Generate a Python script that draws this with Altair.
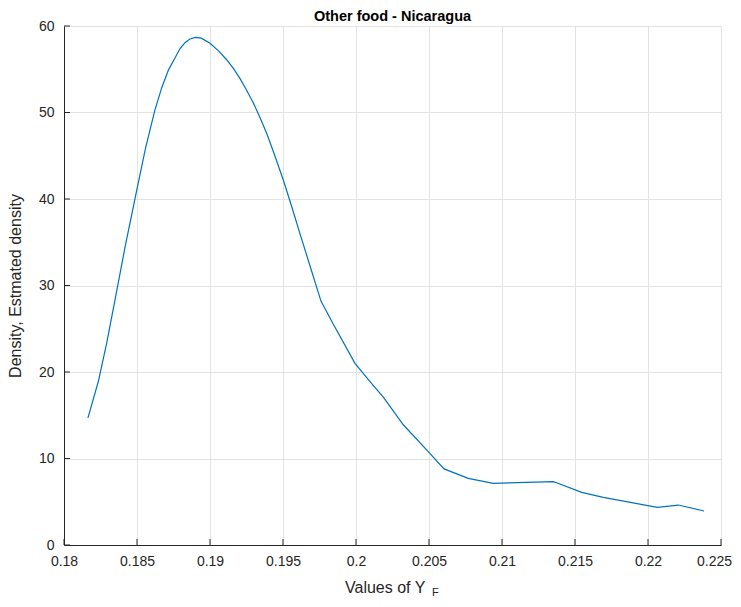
import altair as alt
import pandas as pd

# Density curve
x_vals = [0.18164, 0.18235, 0.18292, 0.18349, 0.18420, 0.18498, 0.18560, 0.18623,
          0.18670, 0.18715, 0.18760, 0.18795, 0.18830, 0.18863, 0.18900, 0.18940,
          0.19000, 0.19060, 0.19114, 0.19160, 0.19205, 0.19250, 0.19297, 0.19340,
          0.19388, 0.19440, 0.19502, 0.19560, 0.19616, 0.19690, 0.19760, 0.19842,
          0.19993, 0.20096, 0.20187, 0.20324, 0.20495, 0.20603, 0.20769, 0.20940,
          0.21351, 0.21374, 0.21546, 0.21694, 0.22064, 0.22208, 0.22384]
y_vals = [14.7, 18.9, 23.3, 28.3, 34.6, 41.0, 46.0, 50.3,
          52.9, 54.9, 56.3, 57.4, 58.1, 58.5, 58.68, 58.6,
          58.0, 57.1, 56.1, 55.1, 53.95, 52.6, 51.1, 49.5,
          47.6, 45.2, 42.2, 39.1, 36.0, 32.0, 28.2, 25.6,
          21.0, 18.9, 17.1, 13.9, 10.8, 8.8, 7.7, 7.13,
          7.32, 7.2, 6.09, 5.5, 4.35, 4.62, 3.93]

x_ticks = [0.18, 0.185, 0.19, 0.195, 0.2, 0.205, 0.21, 0.215, 0.22, 0.225]
y_ticks = [0, 10, 20, 30, 40, 50, 60]

title_text = "Other food - Nicaragua"
xlabel_text = "Values of Y"
xlabel_sub = "F"
ylabel_text = "Density, Estmated density"

W, H = 657, 519
FONT = "Liberation Sans"
AX = "#262626"

df = pd.DataFrame({"x": x_vals, "y": y_vals})
xt = pd.DataFrame({"x": x_ticks})
yt = pd.DataFrame({"y": y_ticks})

xscale = alt.Scale(domain=[0.18, 0.225], nice=False, zero=False)
yscale = alt.Scale(domain=[0, 60], nice=False)

x_axis = alt.Axis(values=x_ticks, format="~g", title=None, grid=True, gridColor="#e3e3e3",
                  gridWidth=1, domainColor=AX, domainWidth=1, tickSize=0,
                  labelFont=FONT, labelFontSize=14, labelColor=AX, labelPadding=9,
                  labelFlush=False,
                  labelOffset={"condition": {"test": "datum.value > 0.2249", "value": -7},
                               "value": 0})
y_axis = alt.Axis(values=y_ticks, title=ylabel_text, grid=True,
                  gridColor="#e3e3e3", gridWidth=1, domainColor=AX, domainWidth=1,
                  tickSize=0, labelFont=FONT, labelFontSize=14, labelColor=AX,
                  labelPadding=10, labelFlush=False, titleFont=FONT, titleFontSize=16,
                  titleFontWeight="normal", titleColor=AX, titlePadding=15)

line = alt.Chart(df).mark_line(color="#0072BD", strokeWidth=1.2).encode(
    x=alt.X("x:Q", scale=xscale, axis=x_axis),
    y=alt.Y("y:Q", scale=yscale, axis=y_axis),
)

xtick_marks = alt.Chart(xt).mark_rule(color=AX, strokeWidth=1).encode(
    x=alt.X("x:Q", scale=xscale),
    y=alt.value(H),
    y2=alt.value(H - 6),
)
ytick_marks = alt.Chart(yt).mark_rule(color=AX, strokeWidth=1).encode(
    y=alt.Y("y:Q", scale=yscale),
    x=alt.value(0),
    x2=alt.value(6),
)

title = alt.Chart(pd.DataFrame({"t": [title_text]})).mark_text(
    align="center", baseline="alphabetic", font=FONT, fontSize=14.5, fontWeight="bold",
    color="#000000"
).encode(text="t:N", x=alt.value(W / 2), y=alt.value(-5))

xlabel = alt.Chart(pd.DataFrame({"t": [xlabel_text]})).mark_text(
    align="left", baseline="alphabetic", font=FONT, fontSize=16, color=AX
).encode(text="t:N", x=alt.value(281), y=alt.value(567))
xsub = alt.Chart(pd.DataFrame({"t": [xlabel_sub]})).mark_text(
    align="left", baseline="alphabetic", font=FONT, fontSize=11, color=AX
).encode(text="t:N", x=alt.value(368), y=alt.value(570))

chart = alt.layer(line, xtick_marks, ytick_marks, title, xlabel, xsub).properties(
    width=W, height=H,
    autosize=alt.AutoSizeParams(type="none"),
    padding={"left": 56, "top": 18, "right": 12, "bottom": 54},
).configure_view(stroke=None).configure(background="white")

chart.save("out.html", embed_options={"renderer": "svg", "actions": False})
